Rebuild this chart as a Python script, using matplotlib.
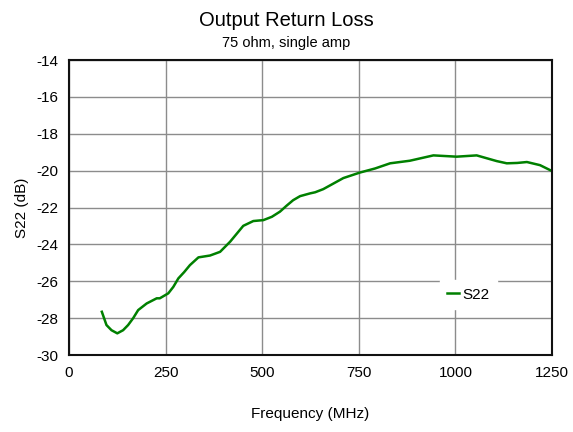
import matplotlib
matplotlib.use("Agg")
from matplotlib import pyplot as plt

plt.rcParams['font.family'] = ['Liberation Sans', 'DejaVu Sans']
plt.rcParams['axes.unicode_minus'] = False

# Frequency (MHz) and S22 (dB)
freq = [85, 97, 110, 125, 140, 153, 166, 179, 201, 227, 235, 257, 270, 283,
        298, 313, 335, 365, 391, 417, 451, 477, 503, 525, 546, 563, 580,
        598, 624, 637, 658, 684, 710, 753, 792, 831, 882, 943, 1003, 1055,
        1107, 1133, 1160, 1185, 1219, 1250]
s22 = [-27.65, -28.37, -28.65, -28.82, -28.65, -28.37, -28.0, -27.56,
       -27.2, -26.92, -26.92, -26.65, -26.3, -25.84, -25.5, -25.12, -24.7,
       -24.6, -24.4, -23.85, -22.99, -22.73, -22.68, -22.5, -22.22, -21.9,
       -21.6, -21.38, -21.23, -21.17, -21.0, -20.7, -20.4, -20.1, -19.88,
       -19.6, -19.46, -19.17, -19.24, -19.17, -19.48, -19.6, -19.58, -19.53,
       -19.7, -20.02]

fig = plt.figure(figsize=(5.73, 4.32), dpi=100)
ax = fig.add_axes([0.1204, 0.178, 0.843, 0.683])

ax.plot(freq, s22, color='#008000', linewidth=1.8, label='S22')

ax.set_xlim(0, 1250)
ax.set_ylim(-30, -14)
ax.set_xticks([0, 250, 500, 750, 1000, 1250])
ax.set_yticks(range(-30, -13, 2))
ax.tick_params(length=0, labelsize=11, pad=8)
ax.grid(True, color='#8c8c8c', linewidth=1)
ax.set_axisbelow(True)
for s in ax.spines.values():
    s.set_linewidth(1.5)
    s.set_color('#111111')

ax.set_xlabel('Frequency (MHz)', fontsize=11, labelpad=19)
ax.set_ylabel('S22 (dB)', fontsize=11, labelpad=5)

fig.text(0.5, 0.952, 'Output Return Loss', ha='center', va='center', fontsize=14.5)
fig.text(0.5, 0.900, '75 ohm, single amp', ha='center', va='center', fontsize=10.5)

leg = ax.legend(loc='center', bbox_to_anchor=(0.827, 0.205), frameon=True,
                fontsize=11, handlelength=0.8, handletextpad=0.2,
                borderpad=0.5, fancybox=False)
leg.get_frame().set_edgecolor('white')
leg.get_frame().set_facecolor('white')
leg.get_frame().set_alpha(1)

plt.savefig('out.png', dpi=100)
